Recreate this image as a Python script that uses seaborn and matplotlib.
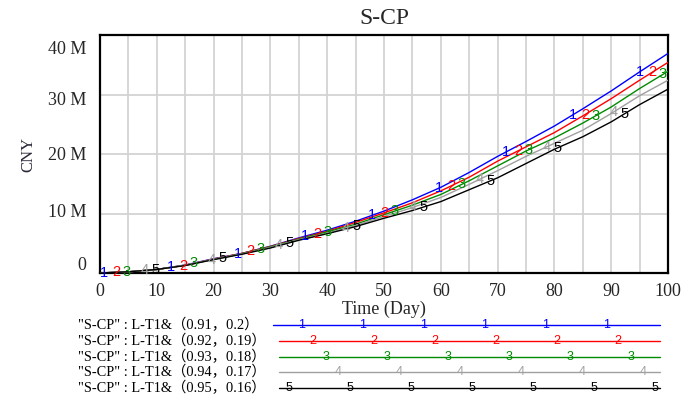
import numpy as np
import pandas as pd
import matplotlib
matplotlib.use("Agg")
import matplotlib.pyplot as plt
import seaborn as sns
from matplotlib.transforms import ScaledTranslation

# ---------------- data (values in millions of CNY) ----------------
days = [0, 5, 10, 15, 20, 25, 30, 35, 40, 45, 50, 55, 60, 65, 70, 75, 80, 85, 90, 95, 100]
run1 = [0, 0.2, 0.6, 1.35, 2.4, 3.3, 4.5, 5.9, 7.2, 8.7, 10.4, 12.3, 14.4, 16.9, 19.6, 22.1, 24.7, 27.6, 30.6, 33.8, 36.9]
run2 = [0, 0.2, 0.6, 1.3, 2.35, 3.3, 4.45, 5.8, 7.0, 8.5, 10.1, 11.8, 13.8, 16.1, 18.8, 21.2, 23.6, 26.4, 29.3, 32.4, 35.4]
run3 = [0, 0.2, 0.6, 1.3, 2.3, 3.25, 4.4, 5.7, 6.9, 8.2, 9.8, 11.4, 13.2, 15.5, 18.0, 20.5, 22.7, 25.2, 27.9, 31.0, 33.9]
run4 = [0, 0.2, 0.6, 1.3, 2.3, 3.2, 4.3, 5.6, 6.7, 8.0, 9.5, 11.0, 12.7, 14.9, 17.2, 19.6, 21.8, 24.0, 26.8, 29.8, 32.4]
run5 = [0, 0.2, 0.6, 1.25, 2.25, 3.15, 4.2, 5.5, 6.6, 7.8, 9.2, 10.5, 12.0, 14.0, 16.0, 18.4, 20.8, 22.9, 25.4, 28.3, 30.9]

run_ids = ["1", "2", "3", "4", "5"]
legend_labels = [
    '"S-CP" : L-T1&（0.91，0.2）',
    '"S-CP" : L-T1&（0.92，0.19）',
    '"S-CP" : L-T1&（0.93，0.18）',
    '"S-CP" : L-T1&（0.94，0.17）',
    '"S-CP" : L-T1&（0.95，0.16）',
]
y_ticks = [0, 10, 20, 30, 40]
y_tick_labels = ["0", "10 M", "20 M", "30 M", "40 M"]
x_ticks = [0, 10, 20, 30, 40, 50, 60, 70, 80, 90, 100]

colors = ["#0000FF", "#FF0000", "#008C00", "#A0A0A0", "#000000"]

# ---------------- styling ----------------
sns.set_style("white")
plt.rcParams["font.family"] = ["Liberation Serif", "Noto Sans CJK SC", "DejaVu Sans"]

W, H = 684, 399
fig = plt.figure(figsize=(W / 100, H / 100), dpi=100)
ax = fig.add_axes([100 / W, 1 - 273 / H, 568 / W, 238 / H])

runs = [run1, run2, run3, run4, run5]
df = pd.concat(
    [pd.DataFrame({"Day": days, "Value": np.array(r) * 1e6, "Run": rid}) for r, rid in zip(runs, run_ids)],
    ignore_index=True,
)
sns.lineplot(data=df, x="Day", y="Value", hue="Run", hue_order=run_ids,
             palette=colors, legend=False, linewidth=1.0, ax=ax, zorder=3)

# numbered run markers along each curve
marker_start = [0.7, 2.8, 4.7, 7.9, 9.7]
marker_step = 11.8
for r, rid, c, s0 in zip(runs, run_ids, colors, marker_start):
    ts = np.arange(s0, 100.01, marker_step)
    vs = np.interp(ts, days, np.array(r) * 1e6)
    for t, v in zip(ts, vs):
        ax.text(t, v, rid, color=c, fontsize=10.5, family="Liberation Sans",
                ha="center", va="center", zorder=4)

ax.set_xlim(0, 100)
ax.set_ylim(0, 40e6)
ax.set_xticks(x_ticks)
ax.set_xticks(np.arange(5, 100, 10), minor=True)
ax.set_xticklabels([str(v) for v in x_ticks], fontsize=13)
ax.set_yticks([v * 1e6 for v in y_ticks])
ax.set_yticklabels(y_tick_labels, fontsize=13)
ax.grid(True, which="both", color="#D3D3D3", linewidth=1.3, zorder=0)
ax.tick_params(axis="both", which="both", length=0)
ax.tick_params(axis="x", pad=7)
ax.tick_params(axis="y", pad=10)

# Vensim-style spread of y tick labels
shifts = {"40 M": -12, "30 M": -4, "20 M": 0, "10 M": 3, "0": 10}
for lab in ax.get_yticklabels():
    dy = shifts.get(lab.get_text(), 0)
    lab.set_transform(lab.get_transform() + ScaledTranslation(0, dy / 100, fig.dpi_scale_trans))

for sp in ax.spines.values():
    sp.set_visible(True)
    sp.set_color("black")
    sp.set_linewidth(1.6)

ax.set_xlabel("Time (Day)", fontsize=13, labelpad=1)
ax.set_ylabel("CNY", fontsize=12, color="#2a2a3a", labelpad=8)
fig.text(384 / W, 1 - 18 / H, "S-CP", fontsize=17, ha="center", va="center")

# ---------------- legend below ----------------
lax = fig.add_axes([0, 0, 1, 1], zorder=-1)
lax.set_xlim(0, W)
lax.set_ylim(H, 0)
lax.axis("off")
row_y = [325, 341, 357, 372, 388]
line_x0 = [273, 279, 279, 279, 279]
mark_x0 = [302, 313, 326, 338, 289]
for i, (lbl, c, rid) in enumerate(zip(legend_labels, colors, run_ids)):
    y = row_y[i]
    lax.text(78, y, lbl, fontsize=10.4, ha="left", va="center", color="black")
    lax.plot([line_x0[i], 660], [y, y], color=c, linewidth=1.0)
    for mx in np.arange(mark_x0[i], 660, 61):
        lax.text(mx, y, rid, color=c, fontsize=9, family="Liberation Sans",
                 ha="center", va="center")

fig.savefig("out.png", dpi=100)
